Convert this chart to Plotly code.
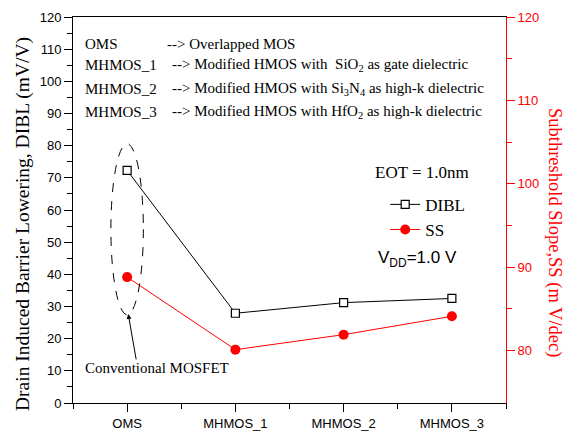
import plotly.graph_objects as go

categories = ["OMS", "MHMOS_1", "MHMOS_2", "MHMOS_3"]
dibl = [72.3, 27.9, 31.2, 32.5]
ss = [88.8, 80.1, 81.9, 84.1]

xpos = list(range(len(categories)))

SERIF = "Liberation Serif"
SANS = "Liberation Sans"

fig = go.Figure()
fig.add_trace(go.Scatter(
    x=xpos, y=dibl, name="DIBL", mode="lines+markers",
    line=dict(color="black", width=1),
    marker=dict(symbol="square", size=8, color="white", line=dict(color="black", width=1.2)),
))
fig.add_trace(go.Scatter(
    x=xpos, y=ss, name="SS", mode="lines+markers", yaxis="y2",
    line=dict(color="red", width=1),
    marker=dict(symbol="circle", size=10, color="red", line=dict(width=0)),
))

tickfont = dict(family=SANS, size=13, color="black")

fig.update_layout(
    width=566, height=432,
    margin=dict(l=73, r=60, t=17, b=29, autoexpand=False),
    paper_bgcolor="white", plot_bgcolor="white",
    font=dict(family=SERIF, size=15, color="black"),
    showlegend=True,
    legend=dict(x=0.721, y=0.560, xanchor="left", yanchor="top",
                font=dict(family=SERIF, size=17, color="black"),
                bgcolor="rgba(0,0,0,0)", tracegroupgap=0),
    xaxis=dict(
        range=[-0.5, 3.5], tickmode="array", tickvals=xpos, ticktext=categories,
        showline=True, linecolor="black", linewidth=1, mirror=True, automargin=False,
        ticks="outside", ticklen=8, tickcolor="black", showgrid=False, zeroline=False,
        tickfont=tickfont, ticklabelstandoff=0,
        minor=dict(tickmode="array", tickvals=[-0.5, 0.5, 1.5, 2.5, 3.5], ticks="outside",
                   ticklen=5, tickcolor="black", showgrid=False),
    ),
    yaxis=dict(
        range=[0, 120], dtick=10, tick0=0, automargin=False,
        showline=True, linecolor="black", linewidth=1,
        ticks="outside", ticklen=8, tickcolor="black", showgrid=False, zeroline=False,
        tickfont=tickfont,
        minor=dict(dtick=5, ticks="outside", ticklen=5, tickcolor="black", showgrid=False),
    ),
    yaxis2=dict(
        overlaying="y", side="right", range=[73.7, 120], dtick=10, tick0=0, automargin=False,
        showline=True, linecolor="red", linewidth=1,
        ticks="outside", ticklen=8, tickcolor="red", showgrid=False, zeroline=False,
        tickfont=dict(family=SANS, size=13, color="red"),
        minor=dict(tickmode="array", tickvals=[85, 95, 105, 115], ticks="outside",
                   ticklen=5, tickcolor="red", showgrid=False),
    ),
)

# dashed ellipse around the conventional MOSFET
fig.add_shape(type="circle", xref="x", yref="y", x0=-0.15, x1=0.15, y0=27.4, y1=80.6,
              line=dict(color="black", width=1, dash="dash"))

# arrow + label
fig.add_annotation(x=0.01, y=27.7, ax=0.086, ay=13.1, xref="x", yref="y", axref="x", ayref="y",
                   text="", showarrow=True, arrowhead=2, arrowsize=1, arrowwidth=1, arrowcolor="black")
fig.add_annotation(x=0.28, y=10.9, xref="x", yref="y", text="Conventional MOSFET", showarrow=False,
                   xanchor="center", yanchor="middle",
                   font=dict(family=SERIF, size=15, color="black"))


def px2paper(xp, yp):
    return (xp - 73) / 433, (403 - yp) / 386


# description text block
col1 = ["OMS", "MHMOS_1", "MHMOS_2", "MHMOS_3"]
col2 = ["--> Overlapped MOS",
        "--> Modified HMOS with  SiO<sub>2</sub> as gate dielectric",
        "--> Modified HMOS with Si<sub>3</sub>N<sub>4</sub> as high-k dielectric",
        "--> Modified HMOS with HfO<sub>2</sub> as high-k dielectric"]
ypix = [44, 65, 89, 112]
x2pix = [165, 170, 170, 170]
for a, b, yp, xp in zip(col1, col2, ypix, x2pix):
    x1p, yy = px2paper(83, yp)
    xx, _ = px2paper(xp, yp)
    fig.add_annotation(x=x1p, y=yy, xref="paper", yref="paper", text=a, showarrow=False,
                       xanchor="left", yanchor="middle", font=dict(family=SERIF, size=15, color="black"))
    fig.add_annotation(x=xx, y=yy, xref="paper", yref="paper", text=b, showarrow=False,
                       xanchor="left", yanchor="middle", font=dict(family=SERIF, size=15, color="black"))

tx, ty = px2paper(422, 172)
fig.add_annotation(x=tx, y=ty, xref="paper", yref="paper", text="EOT = 1.0nm", showarrow=False,
                   xanchor="center", yanchor="middle",
                   font=dict(family=SERIF, size=17, color="black"))
tx, ty = px2paper(417, 259)
fig.add_annotation(x=tx, y=ty, xref="paper", yref="paper",
                   text="V<sub><span style='font-size:12px'>DD</span></sub>=1.0 V", showarrow=False,
                   xanchor="center", yanchor="middle",
                   font=dict(family=SANS, size=17, color="black"))

# axis titles
tx, ty = px2paper(23, 224)
fig.add_annotation(x=tx, y=ty, xref="paper", yref="paper", text="Drain Induced Barrier Lowering, DIBL (mV/V)",
                   showarrow=False, textangle=-90, xanchor="center", yanchor="middle",
                   font=dict(family=SERIF, size=19.5, color="black"))
tx, ty = px2paper(555, 232)
fig.add_annotation(x=tx, y=ty, xref="paper", yref="paper", text="Subthreshold Slope,SS (m V/dec)",
                   showarrow=False, textangle=90, xanchor="center", yanchor="middle",
                   font=dict(family=SERIF, size=18.5, color="red"))

fig.write_html("out.html")
